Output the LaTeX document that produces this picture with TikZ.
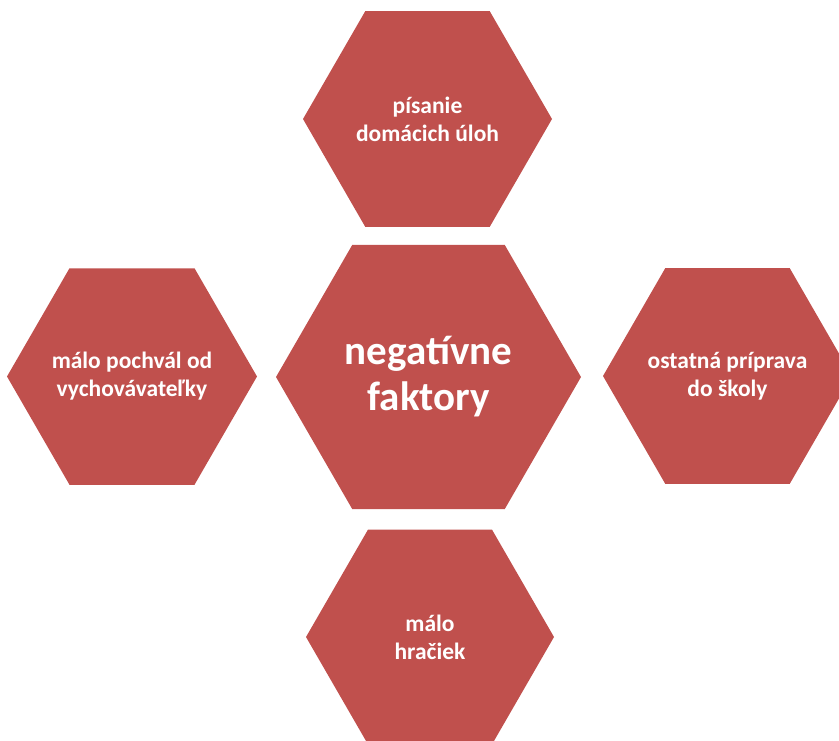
\documentclass[tikz,border=0pt]{standalone}
\usepackage{fontspec}
\setmainfont{Carlito}
\usetikzlibrary{shapes.geometric}
\definecolor{hexred}{HTML}{C0504D}
\tikzset{
  hexa/.style={regular polygon, regular polygon sides=6, fill=hexred, draw=none,
    inner sep=0pt, minimum size=#1},
  hextext/.style={text=white, align=center, inner sep=0pt,
    font=\fontsize{23.5}{28}\selectfont\bfseries},
  hexbigtext/.style={hextext, font=\fontsize{41}{46}\selectfont\bfseries}
}
\begin{document}
\begin{tikzpicture}[x=1pt,y=-1pt]
\useasboundingbox (0,0) rectangle (839,740);
\clip (0,0) rectangle (839,740);
\node[hexa=249] (top) at (427.5,119) {};
\node[hexa=305] (center) at (428.5,377) {};
\node[hexa=250] (left) at (132,376.5) {};
\node[hexa=249] (right) at (727.5,376) {};
\node[hexa=248] (bottom) at (430,637) {};
\node[hextext] (topt) at (top.center) {písanie\\domácich úloh};
\node[hexbigtext] (centert) at (center.center) {negatívne\\faktory};
\node[hextext] (leftt) at (left.center) {málo pochvál od\\vychovávateľky};
\node[hextext] (rightt) at (right.center) {ostatná príprava\\do školy};
\node[hextext] (bottomt) at (bottom.center) {málo\\hračiek};
\end{tikzpicture}
\end{document}
